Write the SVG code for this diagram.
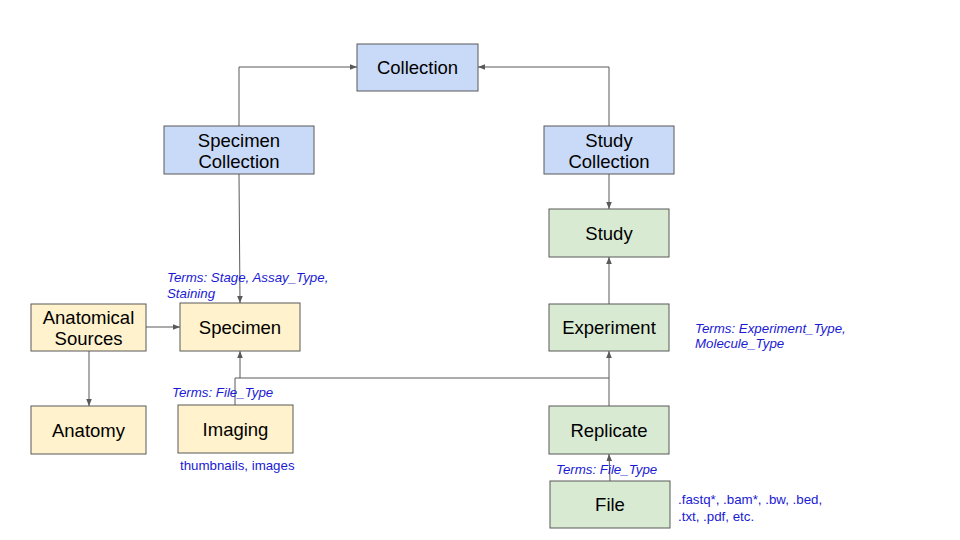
<svg xmlns="http://www.w3.org/2000/svg" width="960" height="540" viewBox="0 0 960 540">
<style>
.n rect{stroke:#595959;stroke-width:1}
.b{fill:#c9daf8}.y{fill:#fff2cc}.g{fill:#d9ead3}
.n text{font-family:"Liberation Sans",Arial,sans-serif;font-size:18.5px;fill:#000;text-anchor:middle}
.c{fill:none;stroke:#595959;stroke-width:1}
.t{font-family:"Liberation Sans",Arial,sans-serif;font-size:13.3px;fill:#1a1ad4}
.i{font-style:italic}
</style>
<defs>
<marker id="a" viewBox="0 0 10 10" refX="10" refY="5" markerWidth="7" markerHeight="7" markerUnits="userSpaceOnUse" orient="auto">
<path d="M0,1 L10,5 L0,9 z" fill="#595959"/>
</marker>
</defs>
<rect width="960" height="540" fill="#fff"/>
<g id="connectors">
<path class="c" d="M239,126 V67 H357" marker-end="url(#a)"/>
<path class="c" d="M609,126 V67 H478" marker-end="url(#a)"/>
<path class="c" d="M239,174 L240,303" marker-end="url(#a)"/>
<path class="c" d="M609,174 V209" marker-end="url(#a)"/>
<path class="c" d="M609,304 V257" marker-end="url(#a)"/>
<path class="c" d="M609,406 V351" marker-end="url(#a)"/>
<path class="c" d="M610,481 L609,454" marker-end="url(#a)"/>
<path class="c" d="M146,327 H180" marker-end="url(#a)"/>
<path class="c" d="M89,351 V406" marker-end="url(#a)"/>
<path class="c" d="M609,378 H240 V351" marker-end="url(#a)"/>
<path class="c" d="M235,405 V378 H240"/>
</g>
<g id="collection" class="n"><rect class="b" x="357" y="44" width="121" height="47"/><text x="417.5" y="74">Collection</text></g>
<g id="specimen-collection" class="n"><rect class="b" x="164" y="126" width="150" height="48"/><text x="239" y="147">Specimen</text><text x="239" y="168">Collection</text></g>
<g id="study-collection" class="n"><rect class="b" x="544" y="126" width="130" height="48"/><text x="609" y="147">Study</text><text x="609" y="168">Collection</text></g>
<g id="study" class="n"><rect class="g" x="549" y="209" width="120" height="48"/><text x="609" y="240">Study</text></g>
<g id="experiment" class="n"><rect class="g" x="549" y="304" width="120" height="47"/><text x="609" y="334">Experiment</text></g>
<g id="replicate" class="n"><rect class="g" x="549" y="406" width="120" height="48"/><text x="609" y="437">Replicate</text></g>
<g id="file" class="n"><rect class="g" x="550" y="481" width="120" height="47"/><text x="610" y="511">File</text></g>
<g id="anatomical-sources" class="n"><rect class="y" x="31" y="304" width="115" height="47"/><text x="88.5" y="324">Anatomical</text><text x="88.5" y="345">Sources</text></g>
<g id="specimen" class="n"><rect class="y" x="180" y="303" width="120" height="48"/><text x="240" y="334">Specimen</text></g>
<g id="anatomy" class="n"><rect class="y" x="31" y="406" width="115" height="48"/><text x="88.5" y="437">Anatomy</text></g>
<g id="imaging" class="n"><rect class="y" x="178" y="405" width="115" height="48"/><text x="235.5" y="436">Imaging</text></g>
<g id="labels">
<text class="t i" x="167" y="282">Terms: Stage, Assay_Type,</text>
<text class="t i" x="167" y="298">Staining</text>
<text class="t i" x="172" y="397">Terms: File_Type</text>
<text class="t" x="180" y="470">thumbnails, images</text>
<text class="t i" x="695" y="333">Terms: Experiment_Type,</text>
<text class="t i" x="695" y="348">Molecule_Type</text>
<text class="t i" x="556" y="474">Terms: File_Type</text>
<text class="t" x="678" y="504">.fastq*, .bam*, .bw, .bed,</text>
<text class="t" x="678" y="521">.txt, .pdf, etc.</text>
</g>
</svg>
